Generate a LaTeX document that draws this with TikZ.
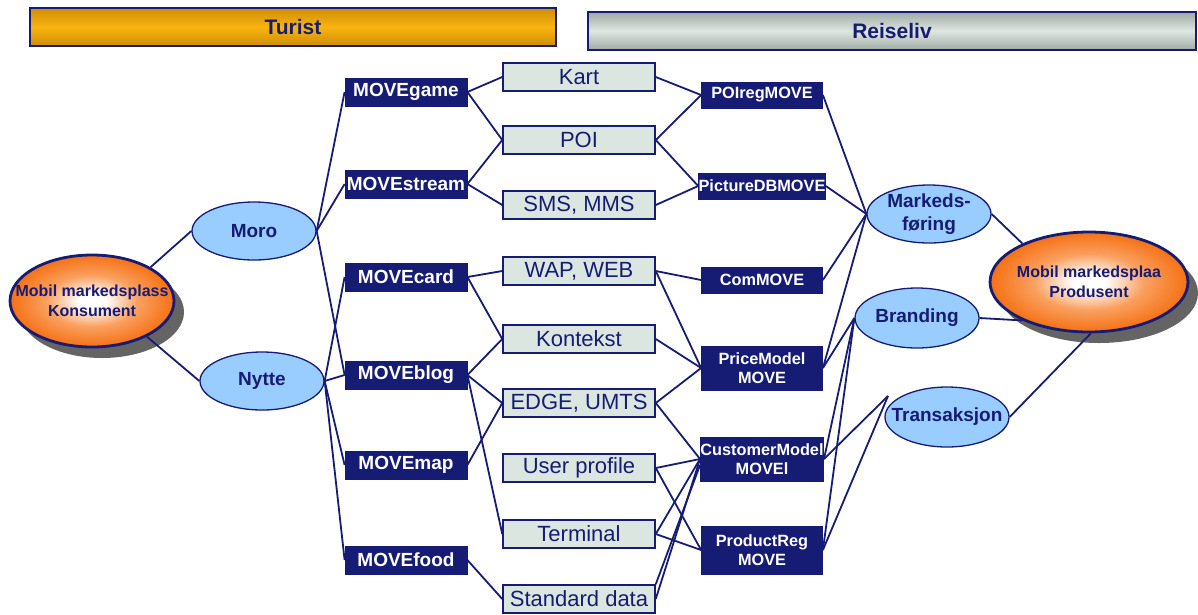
\documentclass[tikz,border=0pt]{standalone}
\usepackage{fontspec}
\setmainfont{Liberation Sans}
\usetikzlibrary{shapes.geometric,shadows}
\definecolor{navy}{RGB}{22,28,115}
\definecolor{techfill}{RGB}{220,230,224}
\definecolor{lightblue}{RGB}{153,204,255}
\definecolor{hubor}{RGB}{244,104,6}
\definecolor{hubmid}{RGB}{250,160,95}
\definecolor{shadowgray}{RGB}{100,100,100}
\definecolor{amberA}{RGB}{205,140,8}
\definecolor{amberB}{RGB}{250,180,14}
\definecolor{greyA}{RGB}{160,170,164}
\definecolor{greyB}{RGB}{222,230,224}
\pgfdeclareradialshading{orangeglow}{\pgfpoint{0bp}{0bp}}{color(0bp)=(white); color(4bp)=(white); color(14bp)=(hubmid); color(27bp)=(hubor); color(50bp)=(hubor)}
\tikzset{
  movebox/.style={rectangle, fill=navy, draw=navy, line width=0.8pt, text=white,
    font=\fontsize{19}{21}\selectfont\bfseries, minimum width=122pt, minimum height=28pt, inner sep=0pt},
  techbox/.style={rectangle, fill=techfill, draw=navy, line width=1.5pt, text=navy,
    font=\fontsize{22}{24}\selectfont, minimum width=152pt, minimum height=28pt, inner sep=0pt},
  svcbox/.style={rectangle, fill=navy, draw=navy, line width=0.8pt, text=white, align=center,
    font=\fontsize{16.3}{19.5}\selectfont\bfseries, minimum width=121pt, minimum height=26pt, inner sep=0pt},
  benefit/.style={ellipse, fill=lightblue, draw=navy, line width=1.3pt, inner sep=0pt,
    minimum width=124pt, minimum height=58pt},
  benefittext/.style={text=navy, align=center, inner sep=0pt,
    font=\fontsize{19}{23}\selectfont\bfseries},
  hub/.style={ellipse, shade, shading=orangeglow, draw=navy, line width=2.8pt, inner sep=0pt,
    drop shadow={shadow xshift=10pt, shadow yshift=-11pt, fill=shadowgray, opacity=1}},
  hubtext/.style={text=navy, align=center, inner sep=0pt,
    font=\fontsize{16}{20}\selectfont\bfseries},
  header/.style={rectangle, draw=navy, line width=1.2pt, text=navy, inner sep=0pt,
    font=\fontsize{21}{23}\selectfont\bfseries, minimum height=38pt},
  conn/.style={draw=navy, line width=1.8pt}
}
\begin{document}
\begin{tikzpicture}[x=1pt,y=-1pt]
\useasboundingbox (0,0) rectangle (1198,614);
% headers
\node[header, minimum width=526pt, top color=amberA, bottom color=amberA, middle color=amberB] (turist) at (293,27) {Turist};
\node[header, minimum width=608pt, top color=greyA, bottom color=greyA, middle color=greyB] (reise) at (892,31) {Reiseliv};

% hubs
\node[hub, minimum width=164pt, minimum height=92pt,
  label={[hubtext]center:Mobil markedsplass\\Konsument}] (kons) at (92,301) {};
\node[hub, minimum width=198pt, minimum height=100pt,
  label={[hubtext]center:Mobil markedsplaa\\Produsent}] (prod) at (1089,282) {};

% benefits
\node[benefit, label={[benefittext]center:Moro}] (moro) at (254,231) {};
\node[benefit, label={[benefittext]center:Nytte}] (nytte) at (262,381) {};
\node[benefit, label={[benefittext]center:Markeds-\\føring}] (mark) at (929,214) {};
\node[benefit, minimum height=60pt, label={[benefittext]center:Branding}] (brand) at (917,318) {};
\node[benefit, minimum height=60pt, label={[benefittext]center:Transaksjon}] (trans) at (947,417) {};
\coordinate (tin) at (888,396);

% MOVE services
\node[movebox] (game) at (406,92) {MOVEgame};
\node[movebox] (stream) at (406,184) {MOVEstream};
\node[movebox] (card) at (406,277) {MOVEcard};
\node[movebox] (blog) at (406,375) {MOVEblog};
\node[movebox] (map) at (406,465) {MOVEmap};
\node[movebox] (food) at (406,560) {MOVEfood};

% technology
\node[techbox] (kart) at (579,77) {Kart};
\node[techbox] (poi) at (579,140) {POI};
\node[techbox] (sms) at (579,205) {SMS, MMS};
\node[techbox] (wap) at (579,271) {WAP, WEB};
\node[techbox] (kon) at (579,339) {Kontekst};
\node[techbox] (edge) at (579,403) {EDGE, UMTS};
\node[techbox] (up) at (579,468) {User profile};
\node[techbox] (term) at (579,534) {Terminal};
\node[techbox] (sd) at (579,599) {Standard data};

% producer services
\node[svcbox] (poireg) at (762,95) {POIregMOVE};
\node[svcbox] (picdb) at (762,186) {PictureDBMOVE};
\node[svcbox] (com) at (762,280) {ComMOVE};
\node[svcbox, minimum height=44pt] (price) at (762,368) {PriceModel\\MOVE};
\node[svcbox, minimum height=44pt] (cust) at (762,459) {CustomerModel\\MOVEl};
\node[svcbox, minimum height=48pt] (prodreg) at (762,550) {ProductReg\\MOVE};

% connectors: left
\draw[conn] (kons.30) -- (moro.west);
\draw[conn] (kons.-33) -- (nytte.west);
\draw[conn] (moro.east) -- (game.west);
\draw[conn] (moro.east) -- (stream.west);
\draw[conn] (moro.east) -- (blog.west);
\draw[conn] (nytte.east) -- (card.west);
\draw[conn] (nytte.east) -- (blog.west);
\draw[conn] (nytte.east) -- (map.west);
\draw[conn] (nytte.east) -- (food.west);
% MOVE -> technology
\draw[conn] (game.east) -- (kart.west);
\draw[conn] (game.east) -- (poi.west);
\draw[conn] (stream.east) -- (poi.west);
\draw[conn] (stream.east) -- (sms.west);
\draw[conn] (card.east) -- (wap.west);
\draw[conn] (card.east) -- (kon.west);
\draw[conn] (blog.east) -- (kon.west);
\draw[conn] (blog.east) -- (edge.west);
\draw[conn] (blog.east) -- (term.west);
\draw[conn] (map.east) -- (edge.west);
\draw[conn] (food.east) -- (sd.west);
% technology -> producer services
\draw[conn] (kart.east) -- (poireg.west);
\draw[conn] (poi.east) -- (poireg.west);
\draw[conn] (poi.east) -- (picdb.west);
\draw[conn] (sms.east) -- (picdb.west);
\draw[conn] (wap.east) -- (com.west);
\draw[conn] (wap.east) -- (price.west);
\draw[conn] (kon.east) -- (price.west);
\draw[conn] (edge.east) -- (price.west);
\draw[conn] (edge.east) -- (cust.west);
\draw[conn] (up.east) -- (cust.west);
\draw[conn] (up.east) -- (prodreg.west);
\draw[conn] (term.east) -- (cust.west);
\draw[conn] (term.east) -- (prodreg.west);
\draw[conn] (sd.east) -- (cust.west);
\draw[conn] (sd.north east) -- ([yshift=-6pt]cust.west);
% producer services -> benefits
\draw[conn] (poireg.east) -- (mark.west);
\draw[conn] (picdb.east) -- (mark.west);
\draw[conn] (com.east) -- (mark.west);
\draw[conn] (price.east) -- (mark.west);
\draw[conn] (price.east) -- (brand.west);
\draw[conn] (cust.east) -- (brand.west);
\draw[conn] (cust.east) -- (tin);
\draw[conn] (prodreg.east) -- (brand.west);
\draw[conn] (prodreg.east) -- (tin);
% benefits -> producer hub
\draw[conn] (mark.east) -- (prod.150);
\draw[conn] (brand.east) -- (prod.210);
\draw[conn] (trans.east) -- (prod.272);
\end{tikzpicture}
\end{document}
